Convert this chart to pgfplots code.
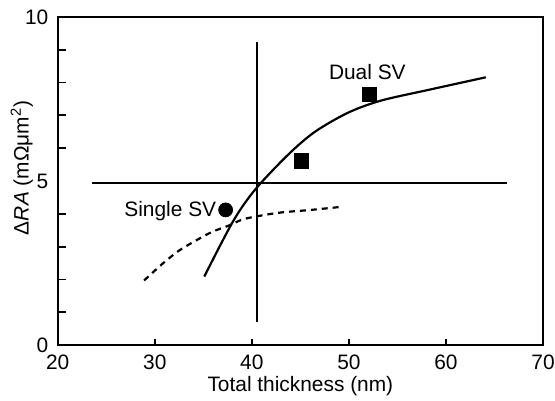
\documentclass[border=0pt]{standalone}
\usepackage{pgfplots}
\pgfplotsset{compat=1.18}
\usepackage{fontspec}
\setmainfont{Liberation Sans}
\begin{document}
\fontsize{10.5}{12}\selectfont
\begin{tikzpicture}
\begin{axis}[
  scale only axis,
  width=244pt, height=165pt,
  xmin=20, xmax=70, ymin=0, ymax=10,
  xtick={20,30,...,70},
  ytick={0,5,10},
  minor ytick={1,2,3,4,6,7,8,9},
  tick align=inside,
  xtick pos=bottom, ytick pos=left,
  major tick length=3pt, minor tick length=4pt,
  major y tick style={draw=none},
  every tick/.style={black, line width=0.9pt},
  axis line style={line width=1.1pt},
  /pgf/number format/assume math mode=true,
  ticklabel style={font=\fontsize{10.5}{12}\selectfont},
  xticklabel style={yshift=-1pt},
  yticklabel style={xshift=-1pt},
  xlabel={Total thickness (nm)},
  ylabel={Δ\textit{RA} (mΩμm\textsuperscript{2})},
  label style={font=\fontsize{10.5}{12}\selectfont},
  xlabel style={at={(axis description cs:0.5,-0.124)}, anchor=center},
  ylabel style={at={(axis description cs:-0.074,0.54)}, anchor=center},
  clip=false,
]
% reference lines
\addplot[black, line width=1.1pt] coordinates {(40.5,0.7) (40.5,9.24)};
\addplot[black, line width=1.1pt] coordinates {(23.5,4.95) (66.3,4.95)};
% dual SV curve
\addplot[black, line width=1.1pt, smooth] coordinates {
  (35.1,2.09) (38.1,3.79) (40.4,4.76) (43.8,5.82) (46.5,6.50)
  (49.9,7.08) (53.3,7.45) (58.4,7.79) (64.1,8.16)
};
% single SV curve
\addplot[black, line width=1.1pt, smooth, dash pattern=on 3pt off 2.5pt] coordinates {
  (28.9,1.97) (30.8,2.48) (32.5,2.88) (34.2,3.18) (35.9,3.45)
  (37.6,3.64) (39.3,3.85) (42.7,4.03) (46.1,4.12) (49.1,4.21)
};
% measured points
\addplot[only marks, mark=square*, mark size=3.7pt, black] coordinates {(45.1,5.61) (52.1,7.64)};
\addplot[only marks, mark=*, mark size=3.5pt, black] coordinates {(37.3,4.12)};
\node at (axis cs:51.9,8.33) {Dual SV};
\node at (axis cs:31.6,4.09) {Single SV};
\end{axis}
\pgfresetboundingbox
\useasboundingbox (-29pt,-28pt) rectangle (250pt,173.5pt);
\end{tikzpicture}
\end{document}
